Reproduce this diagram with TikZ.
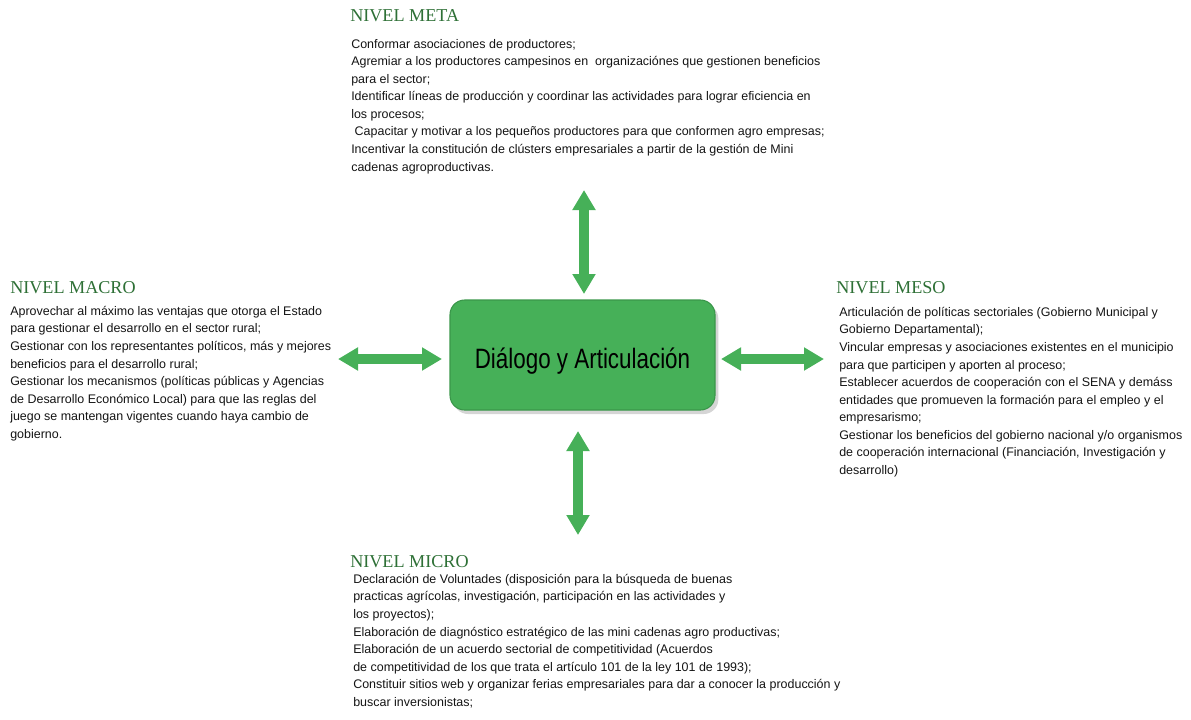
\documentclass[tikz,border=0pt]{standalone}
\usepackage{fontspec}
\setmainfont{Liberation Sans}
\newfontfamily\headfont{Liberation Serif}
\newfontfamily\centerfont[FakeStretch=0.80]{Liberation Sans}
\usetikzlibrary{arrows.meta,shadows}
\definecolor{boxgreen}{RGB}{70,176,88}
\definecolor{boxedge}{RGB}{58,150,74}
\definecolor{headgreen}{RGB}{46,112,54}
\definecolor{bodytext}{RGB}{20,20,20}
\tikzset{
  centerbox/.style={draw=boxedge, line width=0.8pt, fill=boxgreen, rounded corners=11pt,
    minimum width=198.75pt, minimum height=82.5pt, inner sep=0pt,
    text height=20pt, text depth=0pt,
    font=\centerfont\fontsize{21}{25}\selectfont, text=black,
    drop shadow={shadow xshift=2.5pt, shadow yshift=-3pt, opacity=0.3, fill=black!55}},
  heading/.style={anchor=base west, inner sep=0pt, text=headgreen,
    font=\headfont\fontsize{13.6}{16}\selectfont},
  bodyblock/.style={anchor=north west, inner sep=0pt, align=left, text=bodytext,
    font=\fontsize{9.35}{13.15}\selectfont},
  fatarrow/.style={draw=boxgreen, line width=7.5pt,
    {Triangle[width=16.5pt,length=15pt,fill=boxgreen]}-{Triangle[width=16.5pt,length=15pt,fill=boxgreen]}}
}
\begin{document}
\begin{tikzpicture}[x=0.75pt,y=-0.75pt]
\useasboundingbox (0,0) rectangle (1191,719);

% central node
\node[centerbox] (c) at (582.5,355) {Diálogo y Articulación};

% headings
\node[heading] (hmeta) at (350,21) {NIVEL META};
\node[heading] (hmacro) at (10,293) {NIVEL MACRO};
\node[heading] (hmeso) at (836,293) {NIVEL MESO};
\node[heading] (hmicro) at (350,567) {NIVEL MICRO};

% text blocks
\node[bodyblock] (tmeta) at (351,39) {Conformar asociaciones de productores;\\
Agremiar a los productores campesinos en\ \ organizaciónes que gestionen beneficios\\
para el sector;\\
Identificar líneas de producción y coordinar las actividades para lograr eficiencia en\\
los procesos;\\
\ Capacitar y motivar a los pequeños productores para que conformen agro empresas;\\
Incentivar la constitución de clústers empresariales a partir de la gestión de Mini\\
cadenas agroproductivas.};

\node[bodyblock] (tmacro) at (10,306) {Aprovechar al máximo las ventajas que otorga el Estado\\
para gestionar el desarrollo en el sector rural;\\
Gestionar con los representantes políticos, más y mejores\\
beneficios para el desarrollo rural;\\
Gestionar los mecanismos (políticas públicas y Agencias\\
de Desarrollo Económico Local) para que las reglas del\\
juego se mantengan vigentes cuando haya cambio de\\
gobierno.};

\node[bodyblock] (tmeso) at (839,307) {Articulación de políticas sectoriales (Gobierno Municipal y\\
Gobierno Departamental);\\
Vincular empresas y asociaciones existentes en el municipio\\
para que participen y aporten al proceso;\\
Establecer acuerdos de cooperación con el SENA y demáss\\
entidades que promueven la formación para el empleo y el\\
empresarismo;\\
Gestionar los beneficios del gobierno nacional y/o organismos\\
de cooperación internacional (Financiación, Investigación y\\
desarrollo)};

\node[bodyblock] (tmicro) at (353,574) {Declaración de Voluntades (disposición para la búsqueda de buenas\\
practicas agrícolas, investigación, participación en las actividades y\\
los proyectos);\\
Elaboración de diagnóstico estratégico de las mini cadenas agro productivas;\\
Elaboración de un acuerdo sectorial de competitividad (Acuerdos\\
de competitividad de los que trata el artículo 101 de la ley 101 de 1993);\\
Constituir sitios web y organizar ferias empresariales para dar a conocer la producción y\\
buscar inversionistas;};

% arrow end points
\coordinate (aT1) at (584,190);
\coordinate (aT2) at (584,294);
\coordinate (aB1) at (578,431);
\coordinate (aB2) at (578,535);
\coordinate (aL1) at (338,359);
\coordinate (aL2) at (442,359);
\coordinate (aR1) at (721,359);
\coordinate (aR2) at (824,359);

\draw[fatarrow] (aT1) -- (aT2);
\draw[fatarrow] (aB1) -- (aB2);
\draw[fatarrow] (aL1) -- (aL2);
\draw[fatarrow] (aR1) -- (aR2);
\end{tikzpicture}
\end{document}
